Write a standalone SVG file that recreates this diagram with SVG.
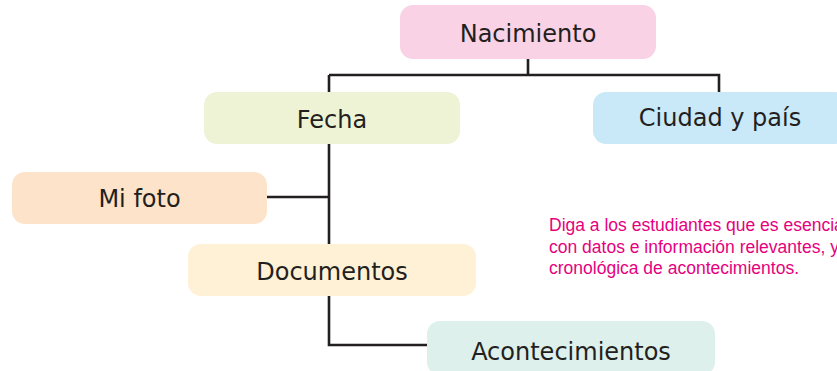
<svg xmlns="http://www.w3.org/2000/svg" width="837" height="371" viewBox="0 0 837 371">
<style>
.box{stroke:none}
.lbl{font-family:"DejaVu Sans",Verdana,sans-serif;font-size:24px;fill:#231f20;text-anchor:middle}
.con{fill:none;stroke:#231f20;stroke-width:2.6;stroke-linejoin:miter}
.note{font-family:"Liberation Sans",Arial,sans-serif;font-size:17.5px;fill:#e6007e}
</style>
<rect width="837" height="371" fill="#ffffff"/>
<g id="connectors">
<path class="con" d="M528,59 V75"/>
<path class="con" d="M329,75 H719 V92"/>
<path class="con" d="M329,75 V244"/>
<path class="con" d="M267,197 H329"/>
<path class="con" d="M329,296 V345 H427"/>
</g>
<g id="nacimiento">
<rect class="box" x="400" y="5" width="256" height="54" rx="13" fill="#f9d3e5"/>
<text class="lbl" x="528" y="42">Nacimiento</text>
</g>
<g id="fecha">
<rect class="box" x="204" y="92" width="256" height="52" rx="13" fill="#eff3d6"/>
<text class="lbl" x="332" y="128">Fecha</text>
</g>
<g id="ciudad">
<rect class="box" x="593" y="92" width="254" height="52" rx="13" fill="#c9e9f8"/>
<text class="lbl" x="720" y="126">Ciudad y país</text>
</g>
<g id="mifoto">
<rect class="box" x="12" y="172" width="255" height="52" rx="13" fill="#fde3c9"/>
<text class="lbl" x="139.5" y="207">Mi foto</text>
</g>
<g id="documentos">
<rect class="box" x="188" y="244" width="288" height="52" rx="13" fill="#fef1d6"/>
<text class="lbl" x="332" y="280">Documentos</text>
</g>
<g id="acontecimientos">
<rect class="box" x="427" y="321" width="288" height="54" rx="13" fill="#ddf0eb"/>
<text class="lbl" x="571" y="360">Acontecimientos</text>
</g>
<g id="nota">
<text class="note" x="549" y="231">Diga a los estudiantes que es esencia</text>
<text class="note" x="549" y="253">con datos e información relevantes, y</text>
<text class="note" x="549" y="274">cronológica de acontecimientos.</text>
</g>
</svg>
